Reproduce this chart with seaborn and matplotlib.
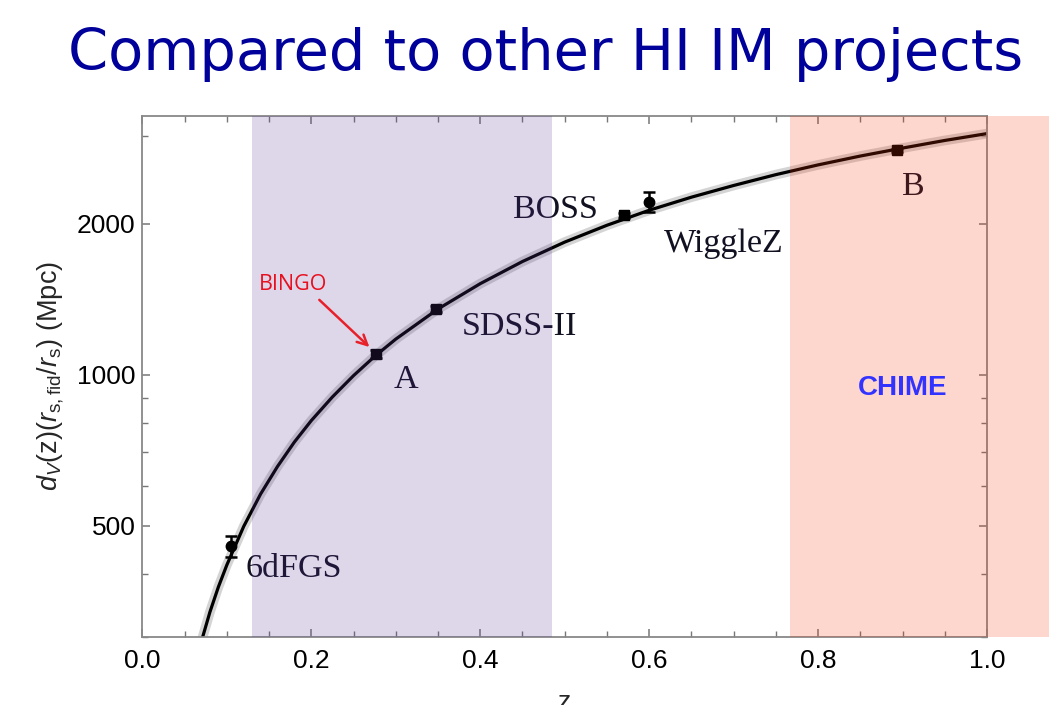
import matplotlib
matplotlib.use("Agg")
import matplotlib.pyplot as plt
import seaborn as sns

# model curve (z, d_V in Mpc)
curve_z = [0.07, 0.08, 0.09, 0.10, 0.12, 0.14, 0.16, 0.18, 0.20, 0.225, 0.25, 0.275,
           0.30, 0.35, 0.40, 0.45, 0.50, 0.55, 0.60, 0.65, 0.70, 0.75, 0.80, 0.85,
           0.90, 0.95, 1.00]
curve_dv = [294, 336, 377, 417, 498, 578, 656, 734, 810, 903, 996, 1088,
            1178, 1353, 1520, 1683, 1840, 1988, 2130, 2262, 2387, 2509, 2624, 2733,
            2835, 2936, 3030]

# measurements
survey_names = ["6dFGS", "A", "SDSS-II", "BOSS", "WiggleZ", "B"]
survey_z = [0.105, 0.277, 0.348, 0.570, 0.600, 0.893]
survey_dv = [455, 1101, 1352, 2083, 2214, 2807]
survey_err = [22, 20, 20, 25, 100, 20]

# redshift coverage of the two experiments
bingo_range = [0.13, 0.485]
chime_range = [0.767, 1.08]

y_ticks = [500, 1000, 2000]

sns.set_style("ticks")
plt.rcParams["font.family"] = ["Liberation Sans", "DejaVu Sans"]
plt.rcParams["mathtext.fontset"] = "custom"
plt.rcParams["mathtext.it"] = "Liberation Sans:italic"
plt.rcParams["mathtext.rm"] = "Liberation Sans"

fig = plt.figure(figsize=(10.49, 7.05), dpi=100)
ax = fig.add_axes([0.1357, 0.0969, 0.8052, 0.7390])

# curve with its soft grey halo
ax.plot(curve_z, curve_dv, color="#b8b8b8", lw=7, alpha=0.6, solid_capstyle="butt", zorder=1)
sns.lineplot(x=curve_z, y=curve_dv, ax=ax, color="black", lw=2.3, zorder=2)

for name, z, dv, err in zip(survey_names, survey_z, survey_dv, survey_err):
    marker = "o" if name in ("6dFGS", "WiggleZ") else "s"
    ax.errorbar(z, dv, yerr=err, fmt=marker, color="black", ms=7.5, capsize=4,
                elinewidth=1.8, capthick=1.8, zorder=2.6)

label_pos = {"6dFGS": (0.1224, 394), "A": (0.297, 941), "SDSS-II": (0.378, 1201),
             "BOSS": (0.439, 2051), "WiggleZ": (0.617, 1760), "B": (0.899, 2283)}
for name in survey_names:
    x, y = label_pos[name]
    ax.text(x, y, name, family="Liberation Serif", fontsize=24.5, color="#111122",
            ha="left", va="baseline", zorder=3)

ax.set_yscale("log")
ax.set_xlim(0.0, 1.0)
ax.set_ylim(300, 3290)
ax.set_yticks(y_ticks)
ax.set_yticklabels([str(t) for t in y_ticks])
ax.set_yticks([300, 400, 600, 700, 800, 900, 3000], minor=True)
ax.yaxis.set_minor_formatter(plt.NullFormatter())
ax.set_xticks([0.0, 0.2, 0.4, 0.6, 0.8, 1.0])
ax.set_xticklabels(["0.0", "0.2", "0.4", "0.6", "0.8", "1.0"])
ax.set_xticks([0.05, 0.1, 0.15, 0.25, 0.3, 0.35, 0.45, 0.5, 0.55, 0.65, 0.7, 0.75,
               0.85, 0.9, 0.95], minor=True)

ax.tick_params(which="both", direction="in", top=True, right=True, color="#777777",
               labelsize=19, labelcolor="black")
ax.tick_params(which="major", length=6, width=1.1)
ax.tick_params(which="minor", length=4, width=1.0)
ax.tick_params(axis="x", pad=9)
ax.tick_params(axis="y", pad=5)
for spine in ax.spines.values():
    spine.set_color("#888888")
    spine.set_linewidth(1.3)

ax.set_ylabel(r"$d_V$(z)($r_{\rm s,fid}/r_{\rm s}$) (Mpc)", fontsize=19.5, labelpad=8)
fig.text(0.5385, -0.006, "z", fontsize=19, ha="center", va="baseline")

# survey bands laid over the plot
ax.axvspan(bingo_range[0], bingo_range[1], color="#5a3291", alpha=0.2, lw=0, zorder=4)
ax.axvspan(chime_range[0], chime_range[1], color="#f5370a", alpha=0.2, lw=0,
           zorder=4, clip_on=False)

ax.text(0.1385, 1477, "BINGO", family="Open Sans", fontsize=15.5, color="#e8101e",
        ha="left", va="baseline", zorder=5)
ax.annotate("", xy=(0.2688, 1136), xytext=(0.2095, 1411), zorder=5,
            arrowprops=dict(arrowstyle="->", color="#e8202a", lw=1.8,
                            mutation_scale=18, shrinkA=0, shrinkB=0))
ax.text(0.8476, 912, "CHIME", fontsize=20, fontweight="bold", color="#3333ff",
        ha="left", va="baseline", zorder=5)

fig.text(0.5205, 0.9007, "Compared to other HI IM projects", family="DejaVu Sans",
         fontsize=41.4, color="#00009a", ha="center", va="baseline")

plt.savefig("out.png", dpi=100)
plt.close()
